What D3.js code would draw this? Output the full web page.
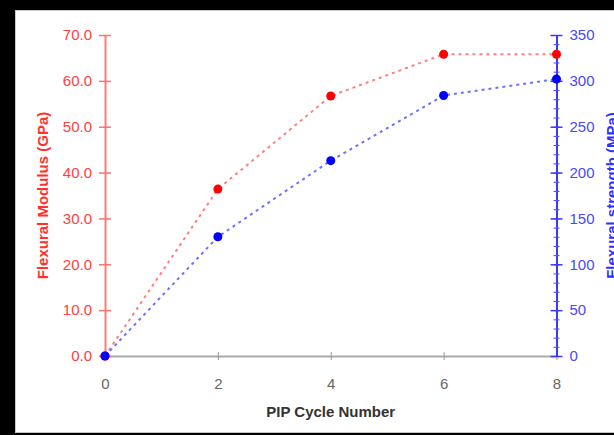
<!DOCTYPE html>
<html>
<head>
<meta charset="utf-8">
<script src="https://cdn.jsdelivr.net/npm/d3@7"></script>
<style>
  body { margin: 0; background: #000; }
  svg { display: block; font-family: "Liberation Sans", Arial, sans-serif; }
</style>
</head>
<body>
<svg id="chart"></svg>
<script>
// PIP cycle data
var cycles = [0, 2, 4, 6, 8];
var modulus = [0, 36.4, 56.7, 65.8, 65.8];      // GPa
var strength = [0, 130, 213, 284, 302];         // MPa

var xTicks = [0, 2, 4, 6, 8];
var modTicks = [0, 10, 20, 30, 40, 50, 60, 70];
var strTicks = [0, 50, 100, 150, 200, 250, 300, 350];

var width = 614, height = 435;

var svg = d3.select("#chart")
    .attr("width", width)
    .attr("height", height);

// white panel
svg.append("rect")
    .attr("x", 15.5).attr("y", 10.5)
    .attr("width", 620).attr("height", 422)
    .attr("fill", "#fff")
    .attr("stroke", "#c8c8c8");

var x = d3.scaleLinear().domain([0, 8]).range([105, 556.5]);
var yMod = d3.scaleLinear().domain([0, 70]).range([356, 35]);
var yStr = d3.scaleLinear().domain([0, 350]).range([356, 35]);

// x axis
var gx = svg.append("g")
    .attr("transform", "translate(0," + yMod(0) + ")")
    .call(d3.axisBottom(x).tickValues(xTicks).tickSize(4).tickSizeOuter(0));
gx.select(".domain").attr("stroke", "#aaa").attr("stroke-width", 2);
gx.selectAll(".tick line").attr("y1", -4).attr("y2", 4).attr("stroke", "#999");
gx.selectAll(".tick text")
    .attr("y", 33).attr("dy", null)
    .attr("fill", "#666")
    .style("font-size", "15px");

svg.append("text")
    .attr("x", x(4)).attr("y", 417)
    .attr("text-anchor", "middle")
    .attr("fill", "#333")
    .style("font-size", "15px")
    .style("font-weight", "bold")
    .text("PIP Cycle Number");

// left axis (modulus)
var gl = svg.append("g")
    .attr("transform", "translate(" + x(0) + ",0)")
    .call(d3.axisLeft(yMod).tickValues(modTicks).tickFormat(d3.format(".1f")).tickSize(6).tickSizeOuter(0));
gl.select(".domain").attr("stroke", "#ff7a7a").attr("stroke-width", 2);
gl.selectAll(".tick line").attr("x1", -6).attr("x2", 6).attr("stroke", "#ff7070").attr("stroke-width", 1.5);
gl.selectAll(".tick text")
    .attr("x", -13)
    .attr("fill", "#ff4040")
    .style("font-size", "15px");

svg.append("text")
    .attr("transform", "translate(48," + yMod(35) + ") rotate(-90)")
    .attr("text-anchor", "middle")
    .attr("fill", "#ff3030")
    .style("font-size", "15px")
    .style("font-weight", "bold")
    .text("Flexural Modulus (GPa)");

// right axis (strength): minor ticks then major
var gm = svg.append("g")
    .attr("transform", "translate(" + x(8) + ",0)")
    .call(d3.axisRight(yStr).tickValues(d3.range(0, 351, 10)).tickFormat("").tickSize(3).tickSizeOuter(0));
gm.select(".domain").attr("stroke", "#3a3aff").attr("stroke-width", 2);
gm.selectAll(".tick line").attr("x1", -3).attr("x2", 3).attr("stroke", "#4a4aff");

var gr = svg.append("g")
    .attr("transform", "translate(" + x(8) + ",0)")
    .call(d3.axisRight(yStr).tickValues(strTicks).tickSize(6).tickSizeOuter(0));
gr.select(".domain").remove();
gr.selectAll(".tick line").attr("x1", -6).attr("x2", 6).attr("stroke", "#3a3aff").attr("stroke-width", 1.5);
gr.selectAll(".tick text")
    .attr("x", 13)
    .attr("fill", "#4848ff")
    .style("font-size", "15px");

svg.append("text")
    .attr("transform", "translate(617," + yStr(175) + ") rotate(-90)")
    .attr("text-anchor", "middle")
    .attr("fill", "#3030ff")
    .style("font-size", "15px")
    .style("font-weight", "bold")
    .text("Flexural strength (MPa)");

// series
function drawSeries(values, yScale, lineColor, dotColor) {
  var pts = cycles.map(function(c, i) { return [c, values[i]]; });
  var line = d3.line()
      .x(function(d) { return x(d[0]); })
      .y(function(d) { return yScale(d[1]); });
  svg.append("path")
      .datum(pts)
      .attr("d", line)
      .attr("fill", "none")
      .attr("stroke", lineColor)
      .attr("stroke-width", 2)
      .attr("stroke-dasharray", "3,4");
  svg.selectAll(null)
      .data(pts)
      .enter().append("circle")
      .attr("cx", function(d) { return x(d[0]); })
      .attr("cy", function(d) { return yScale(d[1]); })
      .attr("r", 4.5)
      .attr("fill", dotColor);
}

drawSeries(modulus, yMod, "#ff8080", "#ff0000");
drawSeries(strength, yStr, "#7070ff", "#0000ff");
</script>
</body>
</html>
